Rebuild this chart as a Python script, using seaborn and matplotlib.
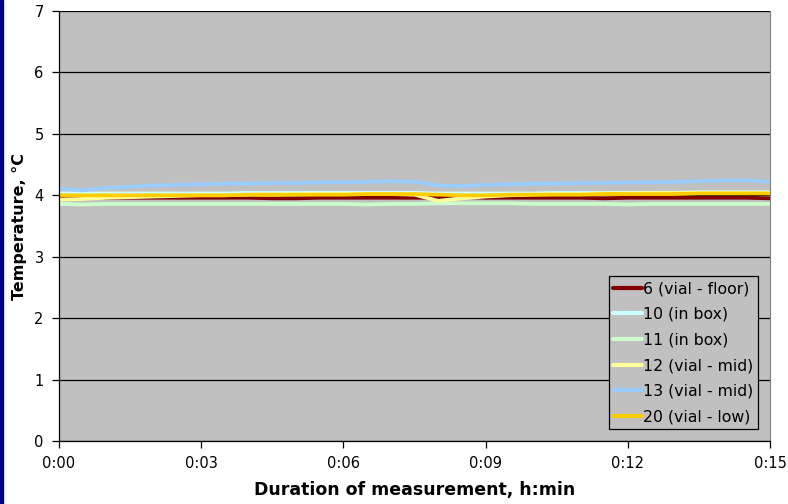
import numpy as np
import pandas as pd
import matplotlib
matplotlib.use("Agg")
import matplotlib.pyplot as plt
import seaborn as sns
from matplotlib.patches import Rectangle

# time in minutes (every 30 s)
minutes = [0, 0.5, 1, 1.5, 2, 2.5, 3, 3.5, 4, 4.5, 5, 5.5, 6, 6.5, 7, 7.5,
           8, 8.5, 9, 9.5, 10, 10.5, 11, 11.5, 12, 12.5, 13, 13.5, 14, 14.5, 15]

s6 = [3.97, 3.97, 3.96, 3.96, 3.96, 3.96, 3.96, 3.96, 3.96, 3.95, 3.95, 3.96, 3.96, 3.96, 3.96, 3.96,
      3.96, 3.97, 3.96, 3.96, 3.96, 3.96, 3.96, 3.95, 3.96, 3.96, 3.96, 3.96, 3.96, 3.96, 3.95]
s10 = [4.03, 4.03, 4.03, 4.03, 4.03, 4.03, 4.03, 4.03, 4.04, 4.04, 4.04, 4.04, 4.04, 4.04, 4.04, 4.04,
       4.03, 4.03, 4.03, 4.03, 4.03, 4.04, 4.04, 4.04, 4.04, 4.04, 4.04, 4.05, 4.05, 4.05, 4.05]
s11 = [3.86, 3.85, 3.86, 3.86, 3.86, 3.86, 3.86, 3.86, 3.86, 3.86, 3.86, 3.86, 3.86, 3.85, 3.86, 3.86,
       3.87, 3.87, 3.87, 3.87, 3.86, 3.86, 3.86, 3.86, 3.85, 3.86, 3.86, 3.86, 3.86, 3.86, 3.86]
s12 = [3.93, 3.94, 3.96, 3.97, 3.98, 3.99, 4.00, 4.00, 4.01, 4.01, 4.02, 4.02, 4.02, 4.02, 4.02, 4.01,
       3.91, 3.95, 3.98, 4.00, 4.01, 4.02, 4.02, 4.03, 4.03, 4.04, 4.04, 4.04, 4.04, 4.04, 4.04]
s13 = [4.11, 4.08, 4.12, 4.14, 4.16, 4.17, 4.18, 4.19, 4.19, 4.20, 4.20, 4.21, 4.21, 4.22, 4.23, 4.22,
       4.16, 4.15, 4.17, 4.18, 4.19, 4.19, 4.20, 4.20, 4.21, 4.21, 4.22, 4.23, 4.24, 4.24, 4.22]
s20 = [4.00, 4.00, 4.00, 4.00, 4.00, 4.00, 4.00, 4.00, 4.01, 4.01, 4.01, 4.01, 4.01, 4.02, 4.02, 4.02,
       4.01, 4.00, 4.00, 4.01, 4.01, 4.01, 4.01, 4.02, 4.02, 4.02, 4.02, 4.03, 4.03, 4.03, 4.03]

names = ["6 (vial - floor)", "10 (in box)", "11 (in box)",
         "12 (vial - mid)", "13 (vial - mid)", "20 (vial - low)"]
colors = ["#800000", "#CCFFFF", "#CCFFCC", "#FFFF99", "#99CCFF", "#FFCC00"]

xticks = [0, 3, 6, 9, 12, 15]
xticklabels = ["0:00", "0:03", "0:06", "0:09", "0:12", "0:15"]

frames = []
for name, vals in zip(names, [s6, s10, s11, s12, s13, s20]):
    frames.append(pd.DataFrame({"t": minutes, "temp": vals, "sensor": name}))
df = pd.concat(frames, ignore_index=True)

sns.set_style("white")
plt.rcParams['font.family'] = ['DejaVu Sans']
plt.rcParams['text.color'] = 'black'
plt.rcParams['axes.labelcolor'] = 'black'
plt.rcParams['xtick.color'] = 'black'
plt.rcParams['ytick.color'] = 'black'

fig = plt.figure(figsize=(7.88, 5.04), dpi=100)
ax = fig.add_axes([59 / 788, 63 / 504, 711 / 788, 430 / 504])
ax.set_facecolor("#C0C0C0")

sns.lineplot(data=df, x="t", y="temp", hue="sensor", hue_order=names,
             palette=colors, linewidth=2.7, ax=ax)

ax.set_xlim(0, 15)
ax.set_ylim(0, 7)
ax.set_xticks(xticks)
ax.set_xticklabels(xticklabels)
ax.set_yticks(range(0, 8))
ax.yaxis.grid(True, color="black", linewidth=0.9)
ax.set_axisbelow(True)
ax.tick_params(axis="both", direction="out", length=5, width=0.9, color="black",
               labelsize=10.5, pad=6, bottom=True, left=True)

for side in ["left", "bottom"]:
    ax.spines[side].set_color("black")
    ax.spines[side].set_linewidth(0.9)
ax.spines["top"].set_visible(False)
ax.spines["right"].set_color("#808080")

ax.set_xlabel("Duration of measurement, h:min", fontsize=12.5, fontweight="bold", labelpad=7)
ax.set_ylabel("Temperature, °C", fontsize=11.5, fontweight="bold", labelpad=5)

leg = ax.legend(loc="lower right", fontsize=11.3, frameon=True, fancybox=False,
                borderaxespad=0.75, handlelength=1.8, handletextpad=0.1,
                labelspacing=0.68, borderpad=0.3)
leg.get_frame().set_facecolor("#C0C0C0")
leg.get_frame().set_edgecolor("black")
leg.get_frame().set_linewidth(0.9)
leg.get_frame().set_alpha(1)
for line in leg.get_lines():
    line.set_linewidth(3)

# navy strip on the left edge
fig.patches.append(Rectangle((0, 0), 3 / 788, 1, transform=fig.transFigure,
                             color="#000080", zorder=10))

fig.savefig("out.png", dpi=100)
